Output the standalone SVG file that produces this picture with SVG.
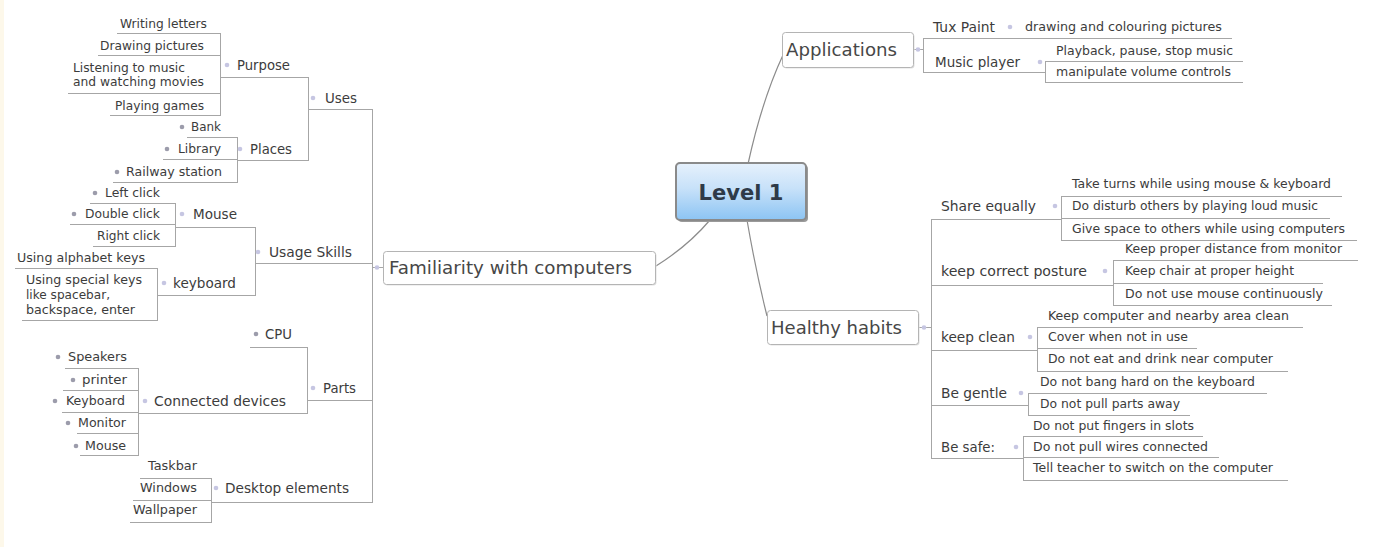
<svg xmlns="http://www.w3.org/2000/svg" width="1387" height="547" viewBox="0 0 1387 547">
<defs>
<linearGradient id="cg" x1="0" y1="0" x2="0" y2="1">
<stop offset="0" stop-color="#e6f1fc"/>
<stop offset="0.45" stop-color="#c7e1f9"/>
<stop offset="1" stop-color="#8cc4f3"/>
</linearGradient>
</defs>
<style>
text{font-family:"DejaVu Sans","Liberation Sans",sans-serif;fill:#3c3c3c}
.lf{font-size:11.5px}
.sb{font-size:13.5px}
.mn{font-size:18px;fill:#474747}
.ln{stroke:#a6a6a6;stroke-width:1;fill:none}
.cv{stroke:#8c8c8c;stroke-width:1.2;fill:none}
.d{fill:#c6c6e2}
.g{fill:#9c9cab}
.bx{fill:#fff;stroke:#b4b4b4;stroke-width:1}
.sh{fill:#e2e2e2}
</style>
<rect width="1387" height="547" fill="#fff"/>
<rect x="0" y="0" width="4" height="547" fill="#fdf8ea"/>

<g id="connectors">
<path class="cv" d="M710 220Q688 246 656 266"/>
<path class="cv" d="M748 164Q762 100 783 55"/>
<path class="cv" d="M747 220Q756 272 767 316"/>
<path class="ln" d="M117 33.5H220M98 55.5H220M68 93.5H220M110 115.5H220M220.5 33V116M220 77.5H308"/>
<path class="ln" d="M187 137.5H237M163 159.5H237M113 182.5H237M237.5 137V183M237 160.5H308M308.5 77V161M308 109.5H372"/>
<path class="ln" d="M372.5 109V503M372 267.5H383"/>
<path class="ln" d="M90 203.5H175M70 224.5H175M93 246.5H175M175.5 203V247M175 227.5H255"/>
<path class="ln" d="M15 268.5H157M22 320.5H157M157.5 268V321M157 295.5H255M255.5 227V296M255 263.5H372"/>
<path class="ln" d="M250 347.5H307M65 368.5H138M63 390.5H138M62 412.5H138M77 433.5H138M80 455.5H138M138.5 368V456M138 413.5H307M307.5 347V414M307 400.5H372"/>
<path class="ln" d="M140 478.5H211M133 500.5H211M130 522.5H211M211.5 478V523M211 502.5H372"/>
<path class="ln" d="M913 49.5H923M923.5 38V73M923 38.5H1232M923 72.5H1045M1045.5 61V83M1045 61.5H1243M1045 82.5H1243"/>
<path class="ln" d="M918 327.5H931M931.5 219V459"/>
<path class="ln" d="M931 219.5H1061M1061.5 196V241M1061 196.5H1342M1061 218.5H1330M1061 240.5H1357"/>
<path class="ln" d="M931 285.5H1113M1113.5 260V306M1113 260.5H1358M1113 283.5H1323M1113 305.5H1332"/>
<path class="ln" d="M931 350.5H1037M1037.5 327V372M1037 327.5H1303M1037 348.5H1197M1037 371.5H1288"/>
<path class="ln" d="M931 405.5H1028M1028.5 393V416M1028 393.5H1267M1028 415.5H1190"/>
<path class="ln" d="M931 458.5H1023M1023.5 436V481M1023 436.5H1203M1023 457.5H1219M1023 480.5H1288"/>
</g>

<g id="level1">
<rect x="678" y="165" width="130" height="57" rx="4" fill="#9a9a9a"/>
<rect x="676" y="163" width="130" height="57" rx="4" fill="url(#cg)" stroke="#8a8a8a" stroke-width="2"/>
<text x="741" y="200" text-anchor="middle" font-size="22" font-weight="bold" fill="#2e3a48" style="fill:#2e3a48" textLength="85" lengthAdjust="spacingAndGlyphs">Level 1</text>
</g>

<g id="familiarity">
<rect class="sh" x="384.5" y="252.5" width="272" height="33" rx="3"/>
<rect class="bx" x="383.5" y="251.5" width="272" height="33" rx="3"/>
<circle class="d" cx="377" cy="267.5" r="2.3"/>
<text class="mn" x="389" y="273.5" textLength="243" lengthAdjust="spacingAndGlyphs">Familiarity with computers</text>
</g>

<g id="uses">
<circle class="d" cx="313" cy="98" r="2.3"/>
<text class="sb" x="325" y="102.9" textLength="32" lengthAdjust="spacingAndGlyphs">Uses</text>
</g>
<g id="purpose">
<circle class="d" cx="227" cy="65" r="2.3"/>
<text class="sb" x="237" y="69.9" textLength="53" lengthAdjust="spacingAndGlyphs">Purpose</text>
</g>
<g id="writing-letters"><text class="lf" x="120" y="28.2" textLength="87" lengthAdjust="spacingAndGlyphs">Writing letters</text></g>
<g id="drawing-pictures"><text class="lf" x="100" y="50.2" textLength="104" lengthAdjust="spacingAndGlyphs">Drawing pictures</text></g>
<g id="listening"><text class="lf" x="73" y="72.2" textLength="112" lengthAdjust="spacingAndGlyphs">Listening to music</text><text class="lf" x="73" y="86.2" textLength="131" lengthAdjust="spacingAndGlyphs">and watching movies</text></g>
<g id="playing-games"><text class="lf" x="115" y="110.2" textLength="89" lengthAdjust="spacingAndGlyphs">Playing games</text></g>
<g id="places">
<circle class="d" cx="240" cy="149" r="2.3"/>
<text class="sb" x="250" y="153.9" textLength="42" lengthAdjust="spacingAndGlyphs">Places</text>
</g>
<g id="bank"><circle class="g" cx="182" cy="127" r="2.3"/><text class="lf" x="191" y="131.2" textLength="30" lengthAdjust="spacingAndGlyphs">Bank</text></g>
<g id="library"><circle class="g" cx="167" cy="149" r="2.3"/><text class="lf" x="178" y="153.2" textLength="43" lengthAdjust="spacingAndGlyphs">Library</text></g>
<g id="railway"><circle class="g" cx="117" cy="172" r="2.3"/><text class="lf" x="126" y="176.2" textLength="96" lengthAdjust="spacingAndGlyphs">Railway station</text></g>

<g id="usage-skills">
<circle class="d" cx="258" cy="252" r="2.3"/>
<text class="sb" x="269" y="256.9" textLength="83" lengthAdjust="spacingAndGlyphs">Usage Skills</text>
</g>
<g id="mouse-skill">
<circle class="d" cx="182" cy="214" r="2.3"/>
<text class="sb" x="193" y="218.9" textLength="44" lengthAdjust="spacingAndGlyphs">Mouse</text>
</g>
<g id="left-click"><circle class="g" cx="95" cy="193" r="2.3"/><text class="lf" x="105" y="197.2" textLength="55" lengthAdjust="spacingAndGlyphs">Left click</text></g>
<g id="double-click"><circle class="g" cx="74" cy="214" r="2.3"/><text class="lf" x="85" y="218.2" textLength="75" lengthAdjust="spacingAndGlyphs">Double click</text></g>
<g id="right-click"><text class="lf" x="97" y="240.2" textLength="63" lengthAdjust="spacingAndGlyphs">Right click</text></g>
<g id="keyboard-skill">
<circle class="d" cx="164" cy="283" r="2.3"/>
<text class="sb" x="173" y="287.9" textLength="63" lengthAdjust="spacingAndGlyphs">keyboard</text>
</g>
<g id="alphabet-keys"><text class="lf" x="17" y="262.2" textLength="128" lengthAdjust="spacingAndGlyphs">Using alphabet keys</text></g>
<g id="special-keys">
<text class="lf" x="26" y="284.2" textLength="116" lengthAdjust="spacingAndGlyphs">Using special keys</text>
<text class="lf" x="26" y="299.2" textLength="84" lengthAdjust="spacingAndGlyphs">like spacebar,</text>
<text class="lf" x="26" y="314.2" textLength="109" lengthAdjust="spacingAndGlyphs">backspace, enter</text>
</g>

<g id="parts">
<circle class="d" cx="313" cy="388" r="2.3"/>
<text class="sb" x="323" y="392.9" textLength="33" lengthAdjust="spacingAndGlyphs">Parts</text>
</g>
<g id="cpu"><circle class="g" cx="256" cy="334" r="2.3"/><text class="sb" x="265" y="338.9" textLength="27" lengthAdjust="spacingAndGlyphs">CPU</text></g>
<g id="connected-devices">
<circle class="d" cx="145" cy="401" r="2.3"/>
<text class="sb" x="154" y="405.9" textLength="132" lengthAdjust="spacingAndGlyphs">Connected devices</text>
</g>
<g id="speakers"><circle class="g" cx="58" cy="357" r="2.3"/><text class="lf" x="68" y="361.2" textLength="59" lengthAdjust="spacingAndGlyphs">Speakers</text></g>
<g id="printer"><circle class="g" cx="73" cy="380" r="2.3"/><text class="lf" x="82" y="384.2" textLength="45" lengthAdjust="spacingAndGlyphs">printer</text></g>
<g id="keyboard-device"><circle class="g" cx="55" cy="401" r="2.3"/><text class="lf" x="66" y="405.2" textLength="59" lengthAdjust="spacingAndGlyphs">Keyboard</text></g>
<g id="monitor"><circle class="g" cx="68" cy="423" r="2.3"/><text class="lf" x="78" y="427.2" textLength="48" lengthAdjust="spacingAndGlyphs">Monitor</text></g>
<g id="mouse-device"><circle class="g" cx="76" cy="446" r="2.3"/><text class="lf" x="85" y="450.2" textLength="41" lengthAdjust="spacingAndGlyphs">Mouse</text></g>

<g id="desktop-elements">
<circle class="d" cx="216" cy="488" r="2.3"/>
<text class="sb" x="225" y="492.9" textLength="124" lengthAdjust="spacingAndGlyphs">Desktop elements</text>
</g>
<g id="taskbar"><text class="lf" x="148" y="470.2" textLength="49" lengthAdjust="spacingAndGlyphs">Taskbar</text></g>
<g id="windows"><text class="lf" x="140" y="492.2" textLength="57" lengthAdjust="spacingAndGlyphs">Windows</text></g>
<g id="wallpaper"><text class="lf" x="133" y="514.2" textLength="64" lengthAdjust="spacingAndGlyphs">Wallpaper</text></g>

<g id="applications">
<rect class="sh" x="783.5" y="33.5" width="131" height="35" rx="3"/>
<rect class="bx" x="782.5" y="32.5" width="131" height="35" rx="3"/>
<circle class="d" cx="918" cy="49.5" r="2.3"/>
<text class="mn" x="786" y="55.5" textLength="111" lengthAdjust="spacingAndGlyphs">Applications</text>
</g>
<g id="tux-paint">
<circle class="d" cx="1010" cy="27" r="2.3"/>
<text class="sb" x="933" y="31.9" textLength="62" lengthAdjust="spacingAndGlyphs">Tux Paint</text>
</g>
<g id="drawing-colouring"><text class="lf" x="1025" y="31.2" textLength="197" lengthAdjust="spacingAndGlyphs">drawing and colouring pictures</text></g>
<g id="music-player">
<circle class="d" cx="1040" cy="62" r="2.3"/>
<text class="sb" x="935" y="66.9" textLength="85" lengthAdjust="spacingAndGlyphs">Music player</text>
</g>
<g id="playback"><text class="lf" x="1056" y="55.2" textLength="177" lengthAdjust="spacingAndGlyphs">Playback, pause, stop music</text></g>
<g id="volume"><text class="lf" x="1056" y="76.2" textLength="175" lengthAdjust="spacingAndGlyphs">manipulate volume controls</text></g>

<g id="healthy-habits">
<rect class="sh" x="768.5" y="311.5" width="151" height="34" rx="3"/>
<rect class="bx" x="767.5" y="310.5" width="151" height="34" rx="3"/>
<circle class="d" cx="924" cy="327.5" r="2.3"/>
<text class="mn" x="771" y="333.5" textLength="131" lengthAdjust="spacingAndGlyphs">Healthy habits</text>
</g>
<g id="share-equally">
<circle class="d" cx="1055" cy="206" r="2.3"/>
<text class="sb" x="941" y="210.9" textLength="95" lengthAdjust="spacingAndGlyphs">Share equally</text>
</g>
<g id="take-turns"><text class="lf" x="1072" y="188.2" textLength="259" lengthAdjust="spacingAndGlyphs">Take turns while using mouse &amp; keyboard</text></g>
<g id="do-disturb"><text class="lf" x="1072" y="210.2" textLength="246" lengthAdjust="spacingAndGlyphs">Do disturb others by playing loud music</text></g>
<g id="give-space"><text class="lf" x="1072" y="233.2" textLength="273" lengthAdjust="spacingAndGlyphs">Give space to others while using computers</text></g>
<g id="posture">
<circle class="d" cx="1105" cy="271" r="2.3"/>
<text class="sb" x="941" y="275.9" textLength="146" lengthAdjust="spacingAndGlyphs">keep correct posture</text>
</g>
<g id="proper-distance"><text class="lf" x="1125" y="253.2" textLength="217" lengthAdjust="spacingAndGlyphs">Keep proper distance from monitor</text></g>
<g id="chair-height"><text class="lf" x="1125" y="275.2" textLength="169" lengthAdjust="spacingAndGlyphs">Keep chair at proper height</text></g>
<g id="mouse-continuously"><text class="lf" x="1125" y="298.2" textLength="198" lengthAdjust="spacingAndGlyphs">Do not use mouse continuously</text></g>
<g id="keep-clean">
<circle class="d" cx="1030" cy="337" r="2.3"/>
<text class="sb" x="941" y="341.9" textLength="74" lengthAdjust="spacingAndGlyphs">keep clean</text>
</g>
<g id="area-clean"><text class="lf" x="1048" y="320.2" textLength="241" lengthAdjust="spacingAndGlyphs">Keep computer and nearby area clean</text></g>
<g id="cover"><text class="lf" x="1048" y="341.2" textLength="140" lengthAdjust="spacingAndGlyphs">Cover when not in use</text></g>
<g id="no-eat"><text class="lf" x="1048" y="363.2" textLength="225" lengthAdjust="spacingAndGlyphs">Do not eat and drink near computer</text></g>
<g id="be-gentle">
<circle class="d" cx="1021" cy="393" r="2.3"/>
<text class="sb" x="941" y="397.9" textLength="66" lengthAdjust="spacingAndGlyphs">Be gentle</text>
</g>
<g id="no-bang"><text class="lf" x="1040" y="386.2" textLength="215" lengthAdjust="spacingAndGlyphs">Do not bang hard on the keyboard</text></g>
<g id="no-pull-parts"><text class="lf" x="1040" y="408.2" textLength="140" lengthAdjust="spacingAndGlyphs">Do not pull parts away</text></g>
<g id="be-safe">
<circle class="d" cx="1016" cy="447" r="2.3"/>
<text class="sb" x="941" y="451.9" textLength="54" lengthAdjust="spacingAndGlyphs">Be safe:</text>
</g>
<g id="no-fingers"><text class="lf" x="1033" y="430.2" textLength="161" lengthAdjust="spacingAndGlyphs">Do not put fingers in slots</text></g>
<g id="no-wires"><text class="lf" x="1033" y="451.2" textLength="175" lengthAdjust="spacingAndGlyphs">Do not pull wires connected</text></g>
<g id="tell-teacher"><text class="lf" x="1033" y="472.2" textLength="240" lengthAdjust="spacingAndGlyphs">Tell teacher to switch on the computer</text></g>
</svg>
